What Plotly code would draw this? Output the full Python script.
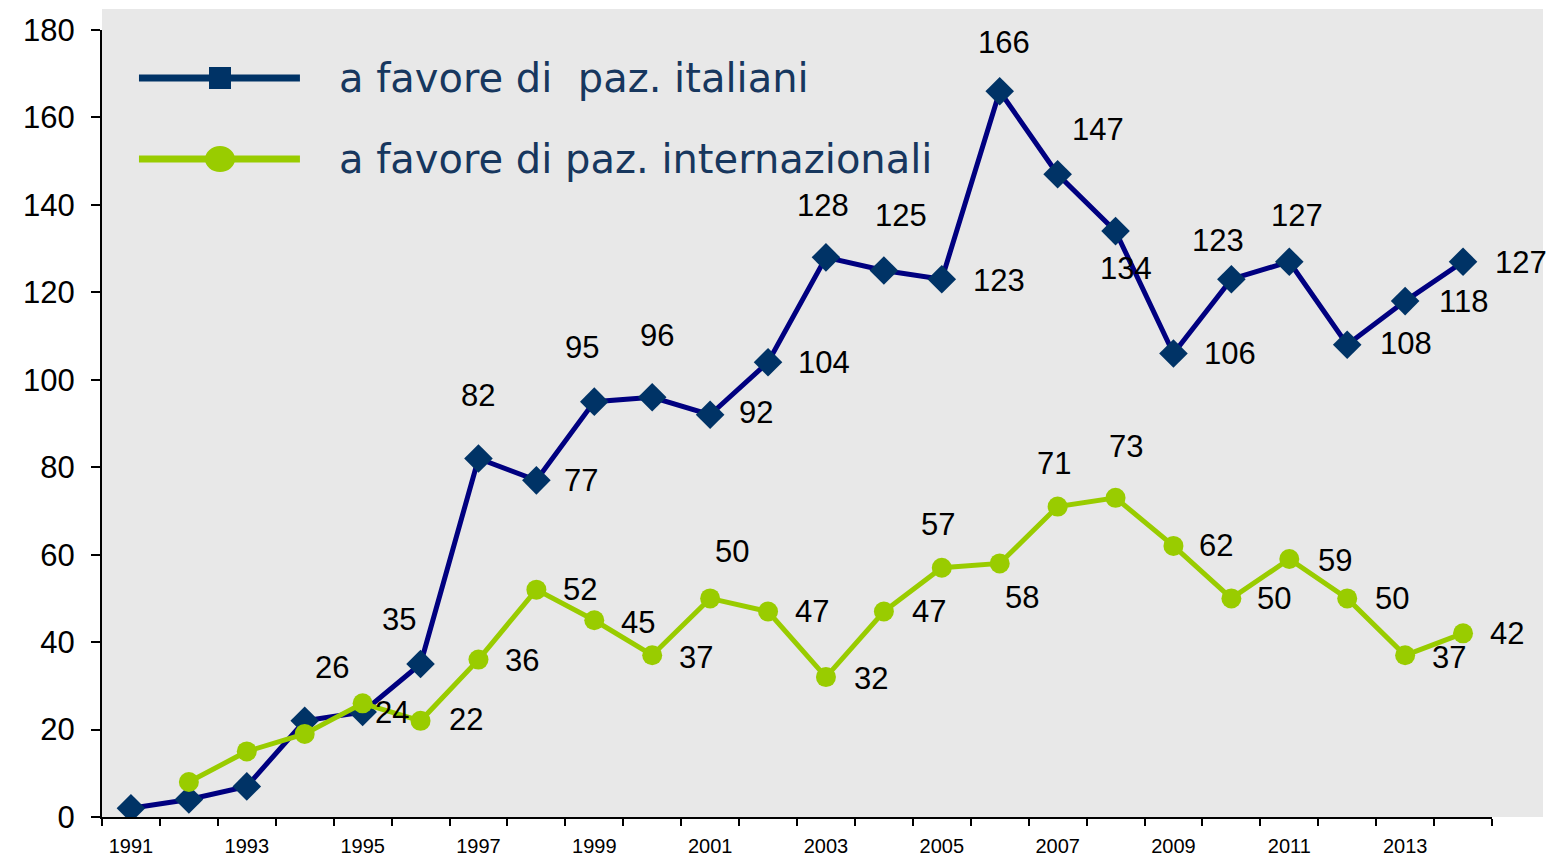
import plotly.graph_objects as go

# data
anni = list(range(1991, 2015))
italiani = [2, 4, 7, 22, 24, 35, 82, 77, 95, 96, 92, 104, 128, 125, 123, 166,
            147, 134, 106, 123, 127, 108, 118, 127]
anni_int = list(range(1992, 2015))
internazionali = [8, 15, 19, 26, 22, 36, 52, 45, 37, 50, 47, 32, 47, 57, 58,
                  71, 73, 62, 50, 59, 50, 37, 42]
nome_ita = "a favore di  paz. italiani"
nome_int = "a favore di paz. internazionali"
primo_anno_etichette = 1995

# label offsets in px (dx, dy), one per labelled year from 1995
off_ita = [(29, 0), (-22, -44), (0, -63), (45, 0), (-12, -54), (5, -62), (46, -2),
           (56, 0), (-3, -52), (17, -55), (57, 1), (4, -49), (40, -45), (10, 37),
           (57, 0), (-13, -39), (8, -46), (59, -1), (58, 0), (58, 1)]
off_int = [(-31, -36), (45, -1), (44, 1), (44, 0), (44, 2), (44, 2), (22, -47),
           (44, 0), (45, 1), (45, 0), (-4, -43), (22, 34), (-4, -43), (10, -51),
           (43, 0), (43, 0), (46, 1), (45, 0), (44, 2), (44, 0)]

BLU_LINEA = "#000080"
BLU_MARKER = "#003366"
VERDE = "#99CC00"
TESTO_LEG = "#17375E"
GRIGIO = "#E8E8E8"

fig = go.Figure()
fig.add_trace(go.Scatter(x=anni, y=italiani, mode="lines+markers", name=nome_ita,
                         line=dict(color=BLU_LINEA, width=5),
                         marker=dict(symbol="diamond", size=22, color=BLU_MARKER),
                         showlegend=False))
fig.add_trace(go.Scatter(x=anni_int, y=internazionali, mode="lines+markers", name=nome_int,
                         line=dict(color=VERDE, width=5),
                         marker=dict(symbol="circle", size=20, color=VERDE),
                         showlegend=False))

ann = []
for serie_x, serie_y, offs in [(anni, italiani, off_ita), (anni_int, internazionali, off_int)]:
    lab = [(a, v) for a, v in zip(serie_x, serie_y) if a >= primo_anno_etichette]
    for (a, v), (dx, dy) in zip(lab, offs):
        ann.append(dict(x=a, y=v, text=str(v), showarrow=False, xshift=dx, yshift=-dy,
                        font=dict(family="Liberation Sans, Arial", size=31, color="black")))

# hand-drawn legend (long sample lines as in the original)
legenda = [(nome_ita, BLU_MARKER, "rect", 0.939), (nome_int, VERDE, "circle", 0.836)]
shapes = [dict(type="rect", xref="paper", yref="paper", x0=0, x1=1.0367, y0=0, y1=1.0267,
               fillcolor=GRIGIO, line=dict(width=0), layer="below")]
for testo, col, simbolo, yy in legenda:
    shapes.append(dict(type="line", xref="paper", yref="paper", x0=0.0266, x1=0.1424,
                       y0=yy, y1=yy, line=dict(color=col, width=7)))
    s = 22 if simbolo == "rect" else 30
    shapes.append(dict(type=simbolo, xref="paper", yref="paper", xsizemode="pixel",
                       ysizemode="pixel", xanchor=0.0849, yanchor=yy,
                       x0=-s / 2, x1=s / 2, y0=-s / 2 + (2 if simbolo == "circle" else 0),
                       y1=s / 2 - (2 if simbolo == "circle" else 0),
                       fillcolor=col, line=dict(width=0)))
    ann.append(dict(xref="paper", yref="paper", x=0.1690, y=yy, xanchor="left",
                    yanchor="middle", text=testo, showarrow=False,
                    font=dict(family="DejaVu Sans", size=40, color=TESTO_LEG)))

fig.update_layout(
    width=1551, height=859,
    margin=dict(l=102, r=59, t=30, b=42),
    paper_bgcolor="white", plot_bgcolor="rgba(0,0,0,0)",
    shapes=shapes, annotations=ann,
    xaxis=dict(range=[1990.5, 2014.5], tickvals=list(range(1991, 2015, 2)),
               ticks="", showgrid=False, zeroline=False, showline=True, automargin=False,
               linecolor="black", linewidth=2, ticklabelstandoff=10,
               tickfont=dict(family="Liberation Sans, Arial", size=20, color="black"),
               minor=dict(tickvals=[a + 0.5 for a in range(1990, 2015)], ticks="outside",
                          ticklen=7, tickwidth=2, tickcolor="black", showgrid=False)),
    yaxis=dict(range=[0, 180], tickvals=list(range(0, 181, 20)), ticks="outside",
               ticklen=9, tickwidth=2, tickcolor="black", showgrid=False, zeroline=False,
               showline=True, linecolor="black", linewidth=2, ticklabelstandoff=10,
               automargin=False,
               tickfont=dict(family="Liberation Sans, Arial", size=31, color="black")),
)

fig.write_html("out.html", config={"displayModeBar": False},
               post_script="document.body.style.margin='0';document.body.style.overflow='hidden';")
